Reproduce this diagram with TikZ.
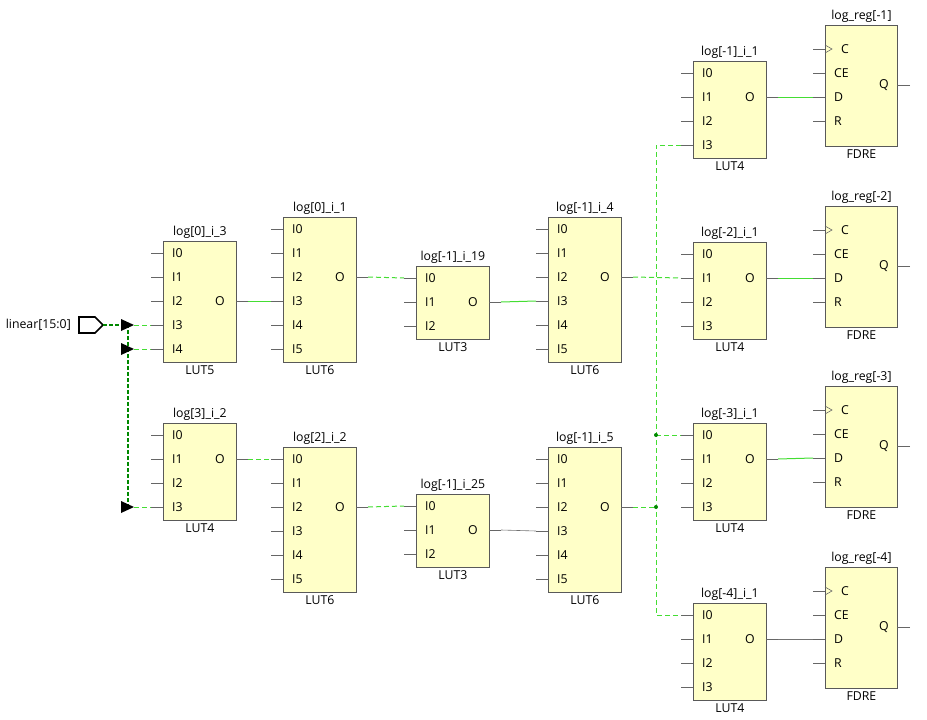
\documentclass[tikz,border=0pt]{standalone}
\usepackage{fontspec}
\setmainfont{Open Sans}
\usetikzlibrary{arrows.meta}
\definecolor{boxfill}{HTML}{FFFFC8}
\definecolor{lgreen}{HTML}{44DD33}
\definecolor{dgreen}{HTML}{008800}
\tikzset{
  cell/.style={draw=black!65,fill=boxfill,line width=0.8pt,anchor=north west,inner sep=0pt},
  stub/.style={draw=black!60,line width=0.6pt},
  txt/.style={font=\fontsize{12.3}{14}\selectfont,inner sep=0pt},
  wire/.style={draw=lgreen,line width=1pt},
  dwire/.style={wire,dash pattern=on 5pt off 3pt},
  gwire/.style={draw=black!55,line width=0.6pt},
  bus/.style={draw=dgreen,line width=1.8pt,dash pattern=on 4pt off 2pt},
}
% #1 name, #2 x, #3 top, #4 pins, #5 out offset, #6 title, #7 type
\newcommand\lutcell[7]{%
  \pgfmathsetmacro\hh{24*#4+1}
  \node[cell,minimum width=73pt,minimum height=\hh pt] (#1) at (#2,#3) {};
  \node[txt,anchor=south] at ([yshift=2pt]#1.north) {#6};
  \node[txt,anchor=north] at ([yshift=-3pt]#1.south) {#7};
  \pgfmathtruncatemacro\np{#4-1}
  \foreach \k in {0,...,\np}{
    \coordinate (#1-I\k) at (#2-12,#3+12+24*\k);
    \draw[stub] (#1-I\k) -- ++(12,0);
    \node[txt,anchor=west] at (#2+9,#3+12+24*\k) {I\k};
  }
  \coordinate (#1-O) at (#2+85,#3+#5);
  \draw[stub] (#1-O) -- ++(-12,0);
  \node[txt,anchor=east] at (#2+62,#3+#5) {O};
}
\newcommand\ffcell[3]{%
  \node[cell,minimum width=72pt,minimum height=121pt] (#1) at (825,#2) {};
  \node[txt,anchor=south] at ([yshift=2pt]#1.north) {#3};
  \node[txt,anchor=north] at ([yshift=-3pt]#1.south) {FDRE};
  \foreach \p/\k/\xx in {C/1/841,CE/2/834,D/3/834,R/4/834}{
    \coordinate (#1-\p) at (813,#2+24*\k);
    \draw[stub] (#1-\p) -- ++(12,0);
    \node[txt,anchor=west] at (\xx,#2+24*\k) {\p};
  }
  \draw[stub] (825,#2+20) -- (832,#2+24) -- (825,#2+28);
  \coordinate (#1-Q) at (910,#2+60);
  \draw[stub] (#1-Q) -- (897,#2+60);
  \node[txt,anchor=east] at (889,#2+60) {Q};
}
\begin{document}
\begin{tikzpicture}[x=1pt,y=-1pt]
\useasboundingbox (0,0) rectangle (927,720);
\lutcell{a}{163}{241}{5}{60}{log[0]\_i\_3}{LUT5}
\lutcell{b}{283}{217}{6}{60}{log[0]\_i\_1}{LUT6}
\lutcell{c}{416}{266}{3}{36}{log[-1]\_i\_19}{LUT3}
\lutcell{d}{548}{217}{6}{60}{log[-1]\_i\_4}{LUT6}
\lutcell{e}{163}{423}{4}{36}{log[3]\_i\_2}{LUT4}
\lutcell{f}{283}{447}{6}{60}{log[2]\_i\_2}{LUT6}
\lutcell{g}{416}{494}{3}{36}{log[-1]\_i\_25}{LUT3}
\lutcell{h}{548}{447}{6}{60}{log[-1]\_i\_5}{LUT6}
\lutcell{r1}{693}{61}{4}{36}{log[-1]\_i\_1}{LUT4}
\lutcell{r2}{693}{242}{4}{36}{log[-2]\_i\_1}{LUT4}
\lutcell{r3}{693}{423}{4}{36}{log[-3]\_i\_1}{LUT4}
\lutcell{r4}{693}{603}{4}{36}{log[-4]\_i\_1}{LUT4}
\ffcell{q1}{25}{log\_reg[-1]}
\ffcell{q2}{206}{log\_reg[-2]}
\ffcell{q3}{386}{log\_reg[-3]}
\ffcell{q4}{567}{log\_reg[-4]}
% input port
\coordinate (pt) at (103,325);
\draw[line width=1.6pt,fill=white] (79,317) -- (95,317) -- (pt) -- (95,333) -- (79,333) -- cycle;
\node[txt,anchor=east] at (71,325) {linear[15:0]};
\coordinate (j1) at (128,325);
\coordinate (j2) at (128,349);
\coordinate (j3) at (128,507);
\draw[bus] (pt) -- (j1) -- (j3);
\foreach \j/\t in {j1/a-I3,j2/a-I4,j3/e-I3}{
  \fill (\j) ++(-7,-6) -- ++(13,6) -- ++(-13,6) -- cycle;
  \draw[dwire] ([xshift=6pt]\j) -- (\t);
}
\draw[wire] (a-O) -- (b-I3);
\draw[dwire] (b-O) -- (c-I0);
\draw[wire] (c-O) -- (d-I3);
\draw[dwire] (e-O) -- (f-I0);
\draw[dwire] (f-O) -- (g-I0);
\draw[gwire] (g-O) -- (h-I3);
\coordinate (v2) at (656,507);
\coordinate (v3) at (656,435);
\draw[dwire] (d-O) -- (r2-I1);
\draw[dwire] (h-O) -- (v2);
\draw[dwire] (r1-I3) -| (v2) |- (r4-I0);
\draw[dwire] (v3) -- (r3-I0);
\fill[dgreen] (v2) circle (2pt) (v3) circle (2pt);
\draw[wire] (r1-O) -- (q1-D);
\draw[wire] (r2-O) -- (q2-D);
\draw[wire] (r3-O) -- (q3-D);
\draw[gwire] (r4-O) -- (q4-D);
\end{tikzpicture}
\end{document}
